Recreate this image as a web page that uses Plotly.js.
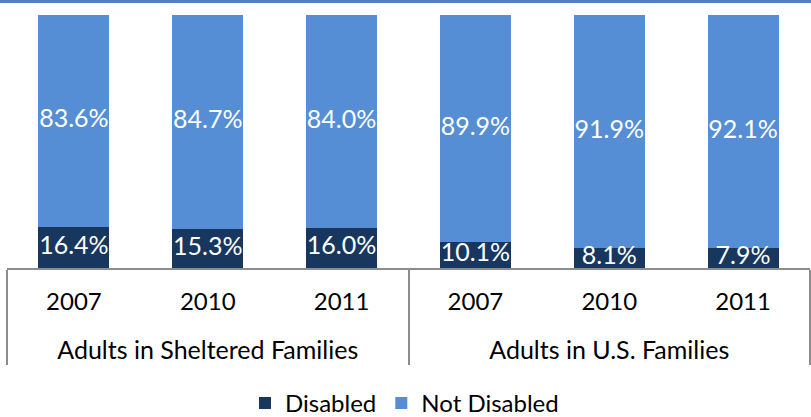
<!DOCTYPE html>
<html>
<head>
<meta charset="utf-8">
<script src="https://cdn.plot.ly/plotly-3.0.1.min.js"></script>
<style>html,body{margin:0;padding:0;background:#fff;}#chart{width:811px;height:417px;}</style>
</head>
<body>
<div id="chart"></div>
<script>
const groups = ["Adults in Sheltered Families","Adults in Sheltered Families","Adults in Sheltered Families","Adults in U.S. Families","Adults in U.S. Families","Adults in U.S. Families"];
const years = ["2007","2010","2011","2007","2010","2011"];
const disabled = [16.4, 15.3, 16.0, 10.1, 8.1, 7.9];
const notDisabled = [83.6, 84.7, 84.0, 89.9, 91.9, 92.1];

const FONT = "Lato, 'Open Sans', sans-serif";
const DARK = "#17375E";
const LIGHT = "#558ED5";
const sized = (s, px) => "<span style='font-size:" + px + "px'>" + s + "</span>";
const xcat = [groups.map(g => sized(g, 25)), years.map(y => sized(y, 24) + "<br>\u00a0")];
const fmt = v => v.toFixed(1) + "%";

const traces = [
  {type:"bar", name:"Disabled", x:xcat, y:disabled, marker:{color:DARK}, width:0.53, textposition:"none", hoverinfo:"skip"},
  {type:"bar", name:"Not Disabled", x:xcat, y:notDisabled, marker:{color:LIGHT}, width:0.53, textposition:"none", hoverinfo:"skip"},
  {type:"scatter", mode:"text", x:xcat, y:disabled.map(v => v/2), text:disabled.map(fmt),
   textfont:{family:FONT, size:25, color:"#ffffff"}, showlegend:false, hoverinfo:"skip"},
  {type:"scatter", mode:"text", x:xcat, y:disabled.map((d,i) => d + notDisabled[i]/2), text:notDisabled.map(fmt),
   textfont:{family:FONT, size:25, color:"#ffffff"}, showlegend:false, hoverinfo:"skip"}
];

const layout = {
  width:811, height:417,
  margin:{l:7, r:1, t:15, b:149, autoexpand:false},
  barmode:"stack",
  paper_bgcolor:"#ffffff", plot_bgcolor:"#ffffff",
  font:{family:FONT, size:24, color:"#000000"},
  xaxis:{type:"multicategory", showline:true, linecolor:"#8c8c8c", linewidth:2,
         showdividers:true, dividercolor:"#8c8c8c", dividerwidth:2,
         ticks:"", ticklabelstandoff:12,
         tickfont:{family:FONT, size:23, color:"#000"}, showgrid:false, zeroline:false, automargin:false},
  yaxis:{range:[0,100], visible:false, showgrid:false, zeroline:false},
  showlegend:true,
  legend:{orientation:"h", x:0.495, xanchor:"center", y:-0.535, yanchor:"middle",
          font:{family:FONT, size:24, color:"#000"}, traceorder:"normal", itemwidth:30,
          bgcolor:"rgba(0,0,0,0)"},
  shapes:[{type:"line", xref:"paper", yref:"paper", x0:-0.02, x1:1.02, y0:1.053, y1:1.053,
           line:{color:"#4F81BD", width:3}}]
};

Plotly.newPlot("chart", traces, layout, {displayModeBar:false, staticPlot:true});
</script>
</body>
</html>
